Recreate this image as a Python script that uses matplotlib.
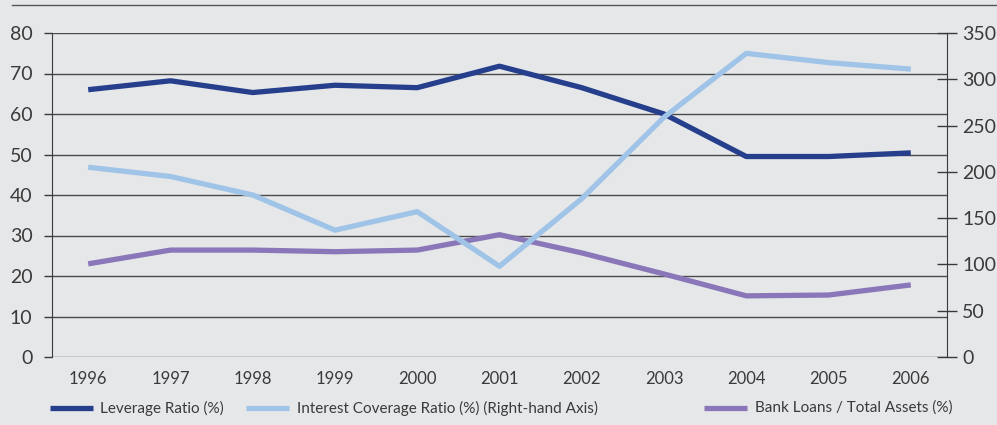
import matplotlib
matplotlib.use("Agg")
import matplotlib.pyplot as plt
from matplotlib.lines import Line2D

years = [1996, 1997, 1998, 1999, 2000, 2001, 2002, 2003, 2004, 2005, 2006]
leverage = [66.0, 68.2, 65.3, 67.1, 66.5, 71.8, 66.5, 60.0, 49.5, 49.5, 50.4]
interest_coverage = [205, 195, 175, 137, 157, 98, 171, 259, 328, 318, 311]
bank_loans = [23.0, 26.4, 26.4, 26.0, 26.4, 30.2, 25.7, 20.5, 15.1, 15.3, 17.8]

left_ticks = [0, 10, 20, 30, 40, 50, 60, 70, 80]
right_ticks = [0, 50, 100, 150, 200, 250, 300, 350]

bg = "#e6e7e9"
ink = "#3a3a3a"
c_lev = "#263f8d"
c_int = "#9fc4e8"
c_bank = "#8a77b9"

plt.rcParams["font.family"] = ["Lato", "DejaVu Sans"]

W, H = 997, 425
fig = plt.figure(figsize=(W / 100, H / 100), dpi=100, facecolor=bg)
ax = fig.add_axes([52 / W, 1 - 357 / H, (947 - 52) / W, (357 - 33) / H])
ax.set_facecolor(bg)
ax2 = ax.twinx()

ax.plot(years, leverage, color=c_lev, lw=3.8, solid_capstyle="butt", zorder=3)
ax.plot(years, bank_loans, color=c_bank, lw=3.8, solid_capstyle="butt", zorder=3)
ax2.plot(years, interest_coverage, color=c_int, lw=3.8, solid_capstyle="butt", zorder=3)

ax.set_xlim(1995.56, 2006.44)
ax.set_ylim(0, 80)
ax2.set_ylim(0, 350)
ax.set_yticks(left_ticks)
ax2.set_yticks(right_ticks)
ax.set_xticks(years)
ax.set_xticklabels([str(y) for y in years])

for y in left_ticks:
    ax.axhline(y, color="#4a4a4a", lw=1.0, zorder=1)

for s in ["top", "bottom"]:
    ax.spines[s].set_visible(False)
    ax2.spines[s].set_visible(False)
ax2.spines["left"].set_visible(False)
ax.spines["right"].set_visible(False)
ax.spines["left"].set_color(ink)
ax2.spines["right"].set_color(ink)

ax.tick_params(axis="y", direction="out", length=6, width=1, color=ink,
               labelsize=14, labelcolor=ink, pad=8)
ax.tick_params(axis="x", length=0, labelsize=12, labelcolor=ink, pad=10)
ax2.tick_params(axis="y", direction="inout", length=14, width=1, color=ink,
                labelsize=14, labelcolor=ink, pad=4)

# rule across the top of the figure
fig.add_artist(Line2D([12 / W, 1.0], [1 - 5 / H, 1 - 5 / H],
                      color="#555555", lw=1.0, transform=fig.transFigure))

# legend entries along the bottom
legend_items = [
    (50, 100, c_lev, "Leverage Ratio (%)"),
    (246, 297, c_int, "Interest Coverage Ratio (%) (Right-hand Axis)"),
    (704, 755, c_bank, "Bank Loans / Total Assets (%)"),
]
ly = 1 - 408 / H
for x0, tx, col, label in legend_items:
    fig.add_artist(Line2D([x0 / W, (x0 + 43) / W], [ly, ly], color=col, lw=3.8,
                          solid_capstyle="butt", transform=fig.transFigure))
    fig.text(tx / W, ly, label, ha="left", va="center", fontsize=11, color=ink)

fig.savefig("out.png", dpi=100, facecolor=bg)
